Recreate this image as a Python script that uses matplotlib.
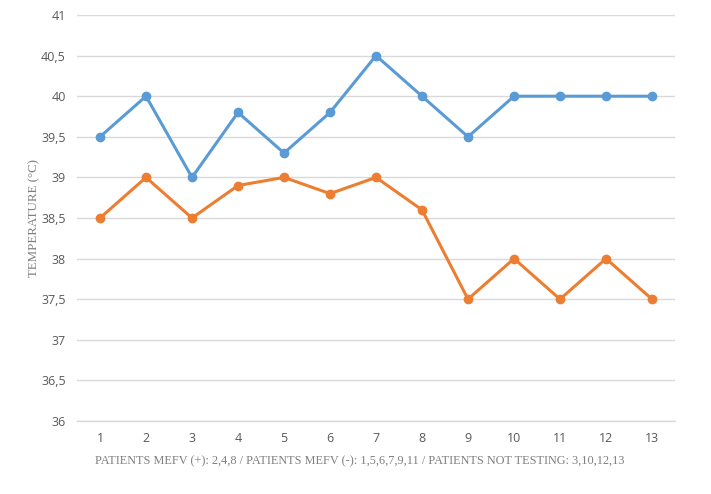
import numpy as np
import matplotlib
matplotlib.use("Agg")
import matplotlib.pyplot as plt
from matplotlib.ticker import FuncFormatter

# data
patients = [1, 2, 3, 4, 5, 6, 7, 8, 9, 10, 11, 12, 13]
temp_blue = [39.5, 40, 39, 39.8, 39.3, 39.8, 40.5, 40, 39.5, 40, 40, 40, 40]
temp_orange = [38.5, 39, 38.5, 38.9, 39, 38.8, 39, 38.6, 37.5, 38, 37.5, 38, 37.5]
y_ticks = [36, 36.5, 37, 37.5, 38, 38.5, 39, 39.5, 40, 40.5, 41]

fig = plt.figure(figsize=(7.11, 4.94), dpi=100)
ax = fig.add_axes([0.1083, 0.1478, 0.8411, 0.8218])

ax.plot(patients, temp_blue, color='#5B9BD5', linewidth=2.2, marker='o',
        markersize=6, zorder=3)
ax.plot(patients, temp_orange, color='#ED7D31', linewidth=2.2, marker='o',
        markersize=6, zorder=3)

ax.set_xlim(0.5, 13.5)
ax.set_ylim(36, 41)
ax.set_xticks(patients)
ax.set_yticks(y_ticks)
ax.yaxis.set_major_formatter(FuncFormatter(lambda v, p: ('%g' % v).replace('.', ',')))

#grid and frame
ax.grid(axis='y', color='#D9D9D9', linewidth=1.0, zorder=0)
for s in ['top', 'right', 'left']:
    ax.spines[s].set_visible(False)
ax.spines['bottom'].set_color('#D9D9D9')
ax.spines['bottom'].set_linewidth(1.0)
ax.tick_params(length=0, colors='#595959', labelsize=9, pad=8)
for lab in ax.get_xticklabels() + ax.get_yticklabels():
    lab.set_family('Open Sans')

ax.set_ylabel('TEMPERATURE (°C)', family='Liberation Serif', fontsize=9.3,
              color='#7F7F7F')
ax.yaxis.set_label_coords(-0.061, 0.5)
ax.set_xlabel('PATIENTS MEFV (+): 2,4,8 / PATIENTS MEFV (-): 1,5,6,7,9,11 / PATIENTS NOT TESTING: 3,10,12,13',
              family='Liberation Serif', fontsize=8.8, color='#7F7F7F')
ax.xaxis.set_label_coords(0.473, -0.085)

fig.savefig('out.png', dpi=100)
